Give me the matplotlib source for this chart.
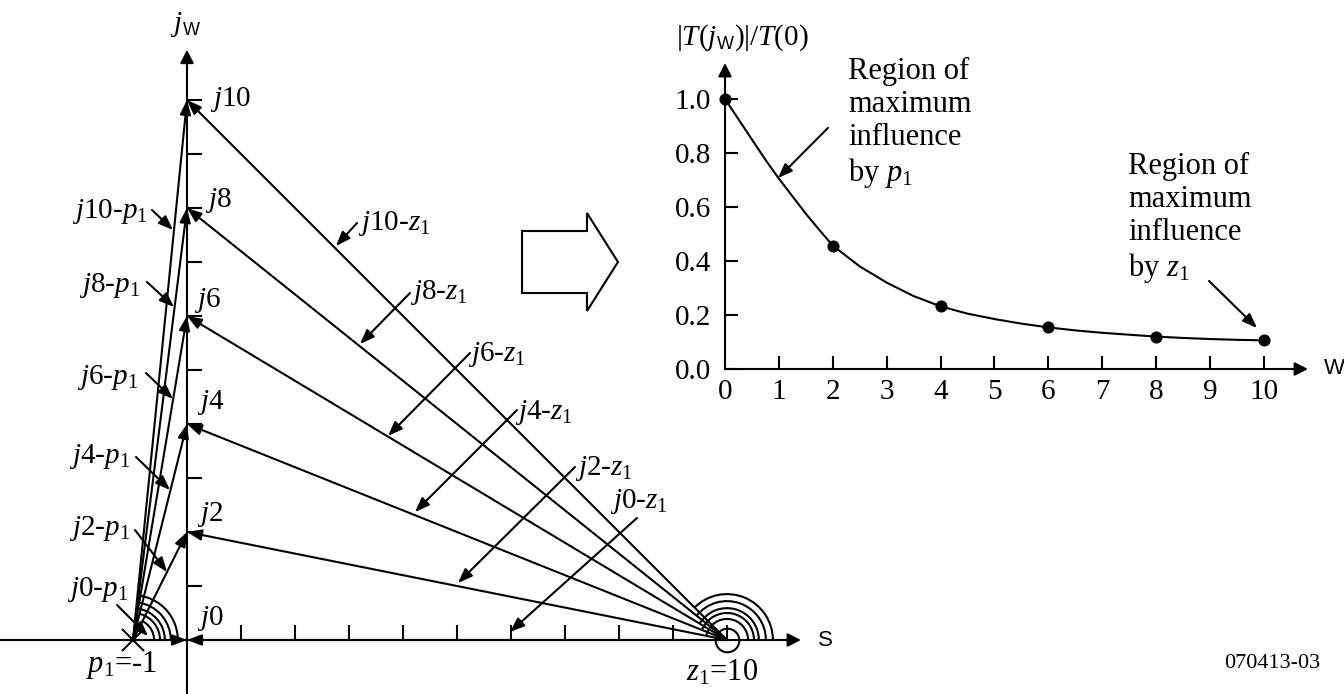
import numpy as np
import matplotlib.pyplot as plt
from matplotlib.patches import Arc, Polygon

plt.rcParams['font.family'] = ['Liberation Serif', 'DejaVu Serif']
plt.rcParams['mathtext.fontset'] = 'custom'
plt.rcParams['mathtext.rm'] = 'Liberation Serif'
plt.rcParams['mathtext.it'] = 'Liberation Serif:italic'

# s-plane: pole p1, zero z1 and the frequencies the vectors go to
pole = -1
zero = 10
omegas = [0, 2, 4, 6, 8, 10]

# normalised magnitude |T(jw)|/T(0)
w_pts = [0, 2, 4, 6, 8, 10]
mag_pts = [1.0, 0.457, 0.232, 0.154, 0.120, 0.106]
w_curve = [0, 0.25, 0.5, 0.75, 1.0, 1.25, 1.5, 1.75, 2.0, 2.5, 3.0, 3.5, 4.0,
           4.5, 5.0, 5.5, 6.0, 6.5, 7.0, 7.5, 8.0, 8.5, 9.0, 9.5, 10.0]
mag_curve = [1.0, 0.925, 0.85, 0.775, 0.705, 0.64, 0.575, 0.515, 0.457, 0.38,
             0.32, 0.27, 0.232, 0.205, 0.185, 0.168, 0.154, 0.143, 0.134,
             0.127, 0.120, 0.115, 0.111, 0.108, 0.106]

FS = 21
LW = 1.5
SANS = 'Liberation Sans'

axis_head = dict(arrowstyle='-|>,head_length=0.53,head_width=0.27', lw=LW,
                 color='k', shrinkA=0, shrinkB=0, mutation_scale=15)
vec_head = dict(arrowstyle='-|>,head_length=0.58,head_width=0.22', lw=LW,
                color='k', shrinkA=0, shrinkB=0, mutation_scale=15)


def run_text(ax, x, y, pieces):
    # draw text pieces side by side, each with its own font
    s, props = pieces[0]
    t = ax.text(x, y, s, ha='left', va='baseline', clip_on=False, **props)
    for s, props in pieces[1:]:
        t = ax.annotate(s, xy=(1, 0), xycoords=t, ha='left', va='bottom',
                        annotation_clip=False, **props)
    return t


fig = plt.figure(figsize=(13.44, 6.94), dpi=100)

# ---------------- s-plane ----------------
ax = fig.add_axes([0, 0, 1, 1])
ax.set_xlim(-187 / 54, 1157 / 54)
ax.set_ylim(-1.0, 640 / 54)
ax.set_aspect('equal', adjustable='datalim')
ax.patch.set_visible(False)
for s in ['top', 'right']:
    ax.spines[s].set_visible(False)
ax.spines['left'].set_position(('data', 0))
ax.spines['bottom'].set_position(('data', 0))
ax.spines['left'].set_bounds(-1.0, 10.7)
ax.spines['bottom'].set_bounds(-3.5, 11.1)
for s in ['left', 'bottom']:
    ax.spines[s].set_linewidth(LW)
ax.set_xticks(range(1, 11))
ax.set_yticks(range(1, 11))
ax.tick_params(direction='in', length=10.5, width=LW,
               labelbottom=False, labelleft=False)

ax.annotate('', xy=(11.37, 0), xytext=(11.0, 0), arrowprops=axis_head)
ax.annotate('', xy=(0, 10.93), xytext=(0, 10.6), arrowprops=axis_head)
ax.text(11.815, 0, 'S', fontsize=16, family=SANS, ha='center', va='center')
run_text(ax, -0.315, 11.278, [('$j$', dict(fontsize=FS)),
                              ('W', dict(fontsize=13, family=SANS))])

# vectors from the pole and from the zero to each jw
for k in omegas:
    ax.annotate('', xy=(0, k), xytext=(pole, 0), arrowprops=vec_head)
    ax.annotate('', xy=(0, k), xytext=(zero, 0), arrowprops=vec_head)

# angle arcs
r_pole = [0.39, 0.50, 0.59, 0.70, 0.83]
r_zero = [0.39, 0.50, 0.59, 0.72, 0.85]
for k, rp, rz in zip(omegas[1:], r_pole, r_zero):
    a_p = np.degrees(np.arctan2(k, 0 - pole))
    a_z = np.degrees(np.arctan2(k, 0 - zero))
    ax.add_patch(Arc((pole, 0), 2 * rp, 2 * rp, theta1=0, theta2=a_p, lw=LW))
    ax.add_patch(Arc((zero, 0), 2 * rz, 2 * rz, theta1=0, theta2=a_z, lw=LW))

ax.plot(pole, 0, marker='x', ms=16, mew=LW, color='k')
ax.plot(zero, 0, marker='o', ms=17, mew=LW, mfc='none', mec='k')
ax.text(-1.207, -0.463, '$p_1$=-1', fontsize=22, ha='center', va='center')
ax.text(9.907, -0.611, '$z_1$=10', fontsize=22, ha='center', va='center')

# jw labels on the imaginary axis
j_lab = [(0.185, 0.407), (0.185, 2.315), (0.185, 4.389),
         (0.13, 6.296), (0.333, 8.148), (0.426, 10.0)]
for k, (x, y) in zip(omegas, j_lab):
    ax.text(x, y, f'$j${k}', fontsize=FS, ha='left', va='center')

# jw - p1 labels with pointers
p_lab = [(-1.093, 0.926), (-1.056, 2.074), (-1.056, 3.389),
         (-0.907, 4.852), (-0.870, 6.556), (-0.722, 7.926)]
p_ptr = [((-1.296, 0.648), (-0.722, 0.074)),
         ((-0.963, 2.037), (-0.370, 1.259)),
         ((-0.944, 3.389), (-0.315, 2.778)),
         ((-0.759, 4.944), (-0.259, 4.463)),
         ((-0.741, 6.630), (-0.241, 6.167)),
         ((-0.648, 7.963), (-0.259, 7.593))]
for k, (x, y), (a, b) in zip(omegas, p_lab, p_ptr):
    ax.text(x, y, f'$j${k}-$p_1$', fontsize=FS, ha='right', va='center')
    ax.annotate('', xy=b, xytext=a, arrowprops=vec_head)

# jw - z1 labels with pointers
z_lab = [(7.833, 2.556), (7.185, 3.167), (6.074, 4.204),
         (5.204, 5.296), (4.130, 6.426), (3.167, 7.704)]
z_ptr = [((8.333, 2.259), (5.981, 0.148)),
         ((7.185, 3.204), (5.019, 1.056)),
         ((6.111, 4.259), (4.222, 2.370)),
         ((5.241, 5.315), (3.722, 3.778)),
         ((4.130, 6.426), (3.204, 5.481)),
         ((3.148, 7.722), (2.759, 7.296))]
for k, (x, y), (a, b) in zip(omegas, z_lab, z_ptr):
    ax.text(x, y, f'$j${k}-$z_1$', fontsize=FS, ha='left', va='center')
    ax.annotate('', xy=b, xytext=a, arrowprops=vec_head)

# block arrow between the two diagrams
ax.add_patch(Polygon([(6.204, 7.574), (7.407, 7.574), (7.407, 7.907),
                      (7.981, 7.0), (7.407, 6.093), (7.407, 6.426),
                      (6.204, 6.426)], closed=True, fill=False, lw=LW))

# ---------------- magnitude plot ----------------
ax2 = fig.add_axes([692.66 / 1344, 271 / 694, 625.24 / 1344, 405 / 694])
ax2.set_xlim(-0.6, 11.0)
ax2.set_ylim(-0.2, 1.3)
ax2.patch.set_visible(False)
for s in ['top', 'right']:
    ax2.spines[s].set_visible(False)
ax2.spines['left'].set_position(('data', 0))
ax2.spines['bottom'].set_position(('data', 0))
ax2.spines['left'].set_bounds(0, 1.10)
ax2.spines['bottom'].set_bounds(0, 10.6)
for s in ['left', 'bottom']:
    ax2.spines[s].set_linewidth(LW)
ax2.set_xticks(range(0, 11))
ax2.set_yticks([0.0, 0.2, 0.4, 0.6, 0.8, 1.0])
ax2.set_yticklabels(['0.0', '0.2', '0.4', '0.6', '0.8', '1.0'])
ax2.tick_params(direction='in', length=9.4, width=LW, labelsize=FS)
ax2.tick_params(axis='y', pad=10)
ax2.tick_params(axis='x', pad=7)

ax2.annotate('', xy=(10.816, 0), xytext=(10.5, 0), arrowprops=axis_head,
             annotation_clip=False)
ax2.annotate('', xy=(0, 1.133), xytext=(0, 1.08), arrowprops=axis_head,
             annotation_clip=False)
ax2.text(11.30, 0, 'W', fontsize=16, family=SANS, ha='center', va='center',
         clip_on=False)
run_text(ax2, -0.909, 1.20, [('|$T$($j$', dict(fontsize=FS)),
                             ('W', dict(fontsize=13, family=SANS)),
                             (')|/$T$(0)', dict(fontsize=FS))])

ax2.plot(w_curve, mag_curve, color='k', lw=LW, clip_on=False)
ax2.plot(w_pts, mag_pts, 'o', color='k', ms=7.7, clip_on=False)

ax2.text(2.28, 1.156, 'Region of\nmaximum\ninfluence\nby $p_1$', fontsize=22,
         ha='left', va='top', linespacing=1.18, clip_on=False)
ax2.annotate('', xy=(0.983, 0.707), xytext=(1.911, 0.893), arrowprops=vec_head)
ax2.text(7.48, 0.804, 'Region of\nmaximum\ninfluence\nby $z_1$', fontsize=22,
         ha='left', va='top', linespacing=1.18, clip_on=False)
ax2.annotate('', xy=(9.87, 0.152), xytext=(8.98, 0.326), arrowprops=vec_head)

fig.text(1272 / 1344, 1 - 663 / 694, '070413-03', fontsize=16,
         ha='center', va='center')

fig.savefig('out.png', dpi=100)
